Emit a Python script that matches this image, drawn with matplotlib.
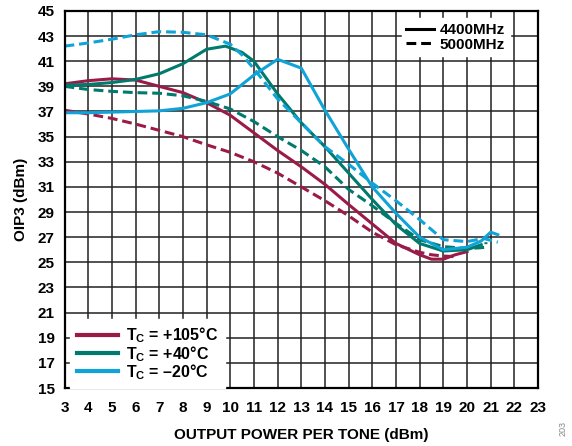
import matplotlib
matplotlib.use("Agg")
import matplotlib.pyplot as plt
from matplotlib.lines import Line2D

plt.rcParams['font.family'] = ['Liberation Sans', 'DejaVu Sans']
plt.rcParams['font.weight'] = 'bold'
plt.rcParams['mathtext.fontset'] = 'custom'
plt.rcParams['mathtext.rm'] = 'Liberation Sans:bold'
plt.rcParams['mathtext.bf'] = 'Liberation Sans:bold'
plt.rcParams['mathtext.default'] = 'bf'

# Data
red_4400_x = [3, 4, 5, 6, 7, 8, 9, 10, 11, 12, 13, 14, 15, 16, 17, 18, 18.5, 19, 19.5, 20]
red_4400_y = [39.2, 39.45, 39.6, 39.5, 39.0, 38.5, 37.7, 36.7, 35.3, 33.9, 32.6, 31.2, 29.6, 28.05, 26.5, 25.6, 25.25, 25.25, 25.6, 25.85]

red_5000_x = [3, 4, 5, 6, 7, 8, 9, 10, 11, 12, 13, 14, 15, 16, 17, 18, 18.5, 19, 19.5]
red_5000_y = [37.1, 36.8, 36.45, 36.0, 35.5, 35.0, 34.35, 33.75, 33.0, 32.1, 31.0, 29.9, 28.7, 27.4, 26.4, 25.8, 25.6, 25.5, 25.45]

teal_4400_x = [3, 4, 5, 6, 7, 8, 9, 9.8, 10.5, 11, 12, 13, 14, 15, 16, 17, 18, 19, 20, 20.6]
teal_4400_y = [39.1, 39.15, 39.3, 39.55, 40.0, 40.8, 41.95, 42.2, 41.7, 41.0, 38.4, 36.1, 34.2, 32.1, 30.0, 28.0, 26.5, 25.9, 26.0, 26.4]

teal_5000_x = [3, 4, 5, 6, 7, 8, 9, 10, 11, 12, 13, 14, 15, 16, 17, 18, 19, 20, 20.5, 20.8, 20.8]
teal_5000_y = [39.0, 38.75, 38.6, 38.5, 38.45, 38.25, 37.8, 37.2, 36.2, 35.0, 33.9, 32.6, 30.8, 29.5, 28.1, 26.8, 26.25, 26.1, 26.15, 26.2, 26.6]

cyan_4400_x = [3, 4, 5, 6, 7, 8, 9, 10, 11, 12, 13, 14, 15, 16, 17, 18, 19, 20, 20.6, 21, 21.3]
cyan_4400_y = [36.9, 36.9, 36.95, 37.0, 37.05, 37.25, 37.7, 38.4, 39.9, 41.15, 40.45, 37.1, 34.0, 31.0, 28.9, 27.0, 26.0, 26.2, 26.7, 27.4, 27.2]

cyan_5000_x = [3, 4, 5, 6, 7, 8, 9, 10, 10.5, 11, 12, 13, 14, 15, 16, 17, 18, 19, 20, 20.7, 21.3]
cyan_5000_y = [42.2, 42.45, 42.75, 43.1, 43.35, 43.3, 43.1, 42.35, 41.5, 40.4, 38.0, 36.1, 34.2, 32.8, 31.3, 29.9, 28.4, 26.8, 26.65, 26.9, 26.6]

temp_labels = ['T$_C$ = +105°C', 'T$_C$ = +40°C', 'T$_C$ = –20°C']
freq_labels = ['4400MHz', '5000MHz']
colors = ['#9B1B48', '#007A6C', '#10A3D8']

dash = (0, (3.2, 1.6))
lw = 2.2

fig = plt.figure(figsize=(5.72, 4.46), dpi=100)
ax = fig.add_axes([0.1128, 0.130, 0.8278, 0.8455])

ax.plot(red_4400_x, red_4400_y, color=colors[0], lw=lw)
ax.plot(red_5000_x, red_5000_y, color=colors[0], lw=lw, linestyle=dash)
ax.plot(teal_4400_x, teal_4400_y, color=colors[1], lw=lw)
ax.plot(teal_5000_x, teal_5000_y, color=colors[1], lw=lw, linestyle=dash)
ax.plot(cyan_4400_x, cyan_4400_y, color=colors[2], lw=lw)
ax.plot(cyan_5000_x, cyan_5000_y, color=colors[2], lw=lw, linestyle=dash)

ax.set_xlim(3, 23)
ax.set_ylim(15, 45)
ax.set_xticks(range(3, 24))
ax.set_yticks(range(15, 46, 2))
ax.grid(True, color='#222222', lw=1.1)
ax.set_axisbelow(True)
ax.tick_params(length=0, labelsize=11)
ax.tick_params(axis='x', pad=9)
ax.tick_params(axis='y', pad=7)
for s in ax.spines.values():
    s.set_linewidth(1.6)
    s.set_color('black')

ax.set_xlabel('OUTPUT POWER PER TONE (dBm)', fontsize=11, fontweight='bold', labelpad=10)
ax.set_ylabel('OIP3 (dBm)', fontsize=11, fontweight='bold', labelpad=7)

# frequency legend
fh = [Line2D([], [], color='black', lw=2.2),
      Line2D([], [], color='black', lw=2.2, linestyle=dash)]
leg1 = ax.legend(fh, freq_labels, loc='upper left', bbox_to_anchor=(0.712, 0.98),
                 frameon=True, fancybox=False, edgecolor='white', framealpha=1,
                 fontsize=11, handlelength=1.8, handletextpad=0.4,
                 labelspacing=0.05, borderpad=0.3, borderaxespad=0)
ax.add_artist(leg1)

# temperature legend
th = [Line2D([], [], color=c, lw=3) for c in colors]
ax.legend(th, temp_labels, loc='lower left', bbox_to_anchor=(0.012, 0.0),
          frameon=True, fancybox=False, edgecolor='white', framealpha=1,
          fontsize=11.5, handlelength=2.6, handletextpad=0.5,
          labelspacing=-0.1, borderpad=0.4, borderaxespad=0)

fig.text(0.985, 0.04, '203', rotation=90, fontsize=6.5, color='#888888',
         fontweight='normal', ha='center', va='center')

fig.savefig('out.png', dpi=100)
